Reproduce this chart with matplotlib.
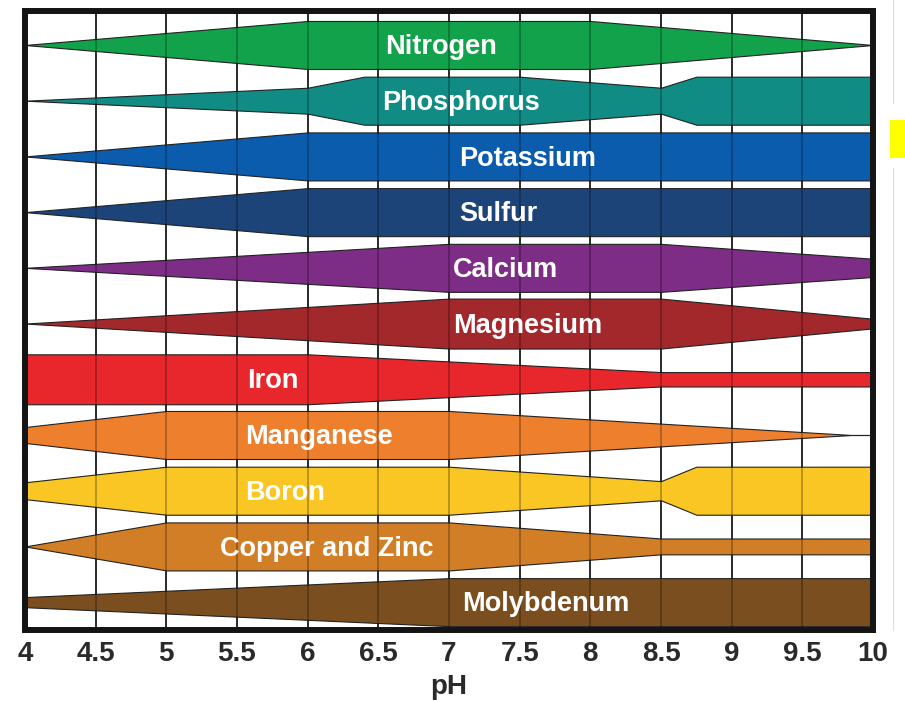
import matplotlib
matplotlib.use("Agg")
import matplotlib.pyplot as plt
from matplotlib.patches import Rectangle
from matplotlib.lines import Line2D

plt.rcParams["font.family"] = ["Liberation Sans", "DejaVu Sans"]

# DONNÉES : disponibilité relative des éléments selon le pH (1 = pleine largeur)

nutrients = ["Nitrogen", "Phosphorus", "Potassium", "Sulfur", "Calcium",
             "Magnesium", "Iron", "Manganese", "Boron", "Copper and Zinc",
             "Molybdenum"]

ph_points = [
    [4, 6, 8, 10],
    [4, 6, 6.4, 7.5, 8.5, 8.75, 10],
    [4, 6, 10],
    [4, 6, 10],
    [4, 7, 8.5, 10],
    [4, 7, 8.5, 10],
    [4, 6, 8.5, 10],
    [4, 5, 7, 9.85, 10],
    [4, 5, 7, 8.5, 8.75, 10],
    [4, 5, 7, 8.5, 10],
    [4, 7, 10],
]

availability = [
    [0, 1, 1, 0],
    [0, 0.54, 1, 1, 0.54, 1, 1],
    [0, 1, 1],
    [0, 1, 1],
    [0, 1, 1, 0.38],
    [0, 1.04, 1.04, 0.2],
    [1.04, 1.04, 0.3, 0.3],
    [0.33, 1, 1, 0, 0],
    [0.35, 1, 1, 0.4, 1, 1],
    [0, 1, 1, 0.33, 0.33],
    [0.21, 1, 1],
]

ph_ticks = [4, 4.5, 5, 5.5, 6, 6.5, 7, 7.5, 8, 8.5, 9, 9.5, 10]
tick_labels = ["4", "4.5", "5", "5.5", "6", "6.5", "7", "7.5", "8", "8.5", "9", "9.5", "10"]

# couleurs et position des étiquettes
colors = ["#12a24b", "#108c84", "#0b5cad", "#1d4478", "#7d2d85", "#a3282b",
          "#e8272d", "#ee802d", "#f9c623", "#d17e27", "#7a4e1e"]
label_x = [6.55, 6.53, 7.07, 7.07, 7.03, 7.03, 5.57, 5.56, 5.56, 5.38, 7.09]

H = 0.431  # demi-largeur max d'une bande (en lignes)


# FIGURE

fig = plt.figure(figsize=(9.05, 7.01), dpi=100)
ax = fig.add_axes([25/905, 71/701, 848/905, 619/701])

for x in ph_ticks[1:-1]:
    ax.axvline(x, color="#1a1a1a", lw=1.2, zorder=1)

for i, name in enumerate(nutrients):
    w = [v * H for v in availability[i]]
    lo = [i - v for v in w]
    hi = [i + v for v in w]
    ax.fill_between(ph_points[i], lo, hi, facecolor=colors[i],
                    edgecolor="#222222", lw=0.8, zorder=2)
    ax.text(label_x[i], i + 0.165, name, color="white", fontsize=19.5,
            fontweight="bold", ha="left", va="baseline", zorder=4)

for x in ph_ticks[1:-1]:
    ax.axvline(x, color="black", lw=1.2, alpha=0.3, zorder=3)

ax.set_xlim(4, 10)
ax.set_ylim(10.50, -0.61)
ax.set_yticks([])
ax.set_xticks(ph_ticks)
ax.set_xticklabels(tick_labels, fontsize=20, fontweight="bold", color="#2a2a2a")
ax.tick_params(axis="x", length=0, pad=8)
ax.set_xlabel("pH", fontsize=20, fontweight="bold", color="#2a2a2a", labelpad=5)

for s in ax.spines.values():
    s.set_linewidth(4.3)
    s.set_color("#141414")
    s.set_zorder(5)

# artefacts de la capture à droite
fig.add_artist(Rectangle((890/905, 1 - 158/701), 15/905, 38/701,
                         transform=fig.transFigure, color="#ffff00", lw=0))
fig.add_artist(Line2D([893/905, 893/905], [1, 1 - 103/701],
                      transform=fig.transFigure, color="#dddddd", lw=0.8))
fig.add_artist(Line2D([893/905, 893/905], [1 - 168/701, 1 - 630/701],
                      transform=fig.transFigure, color="#dddddd", lw=0.8))

fig.savefig("out.png", dpi=100)
